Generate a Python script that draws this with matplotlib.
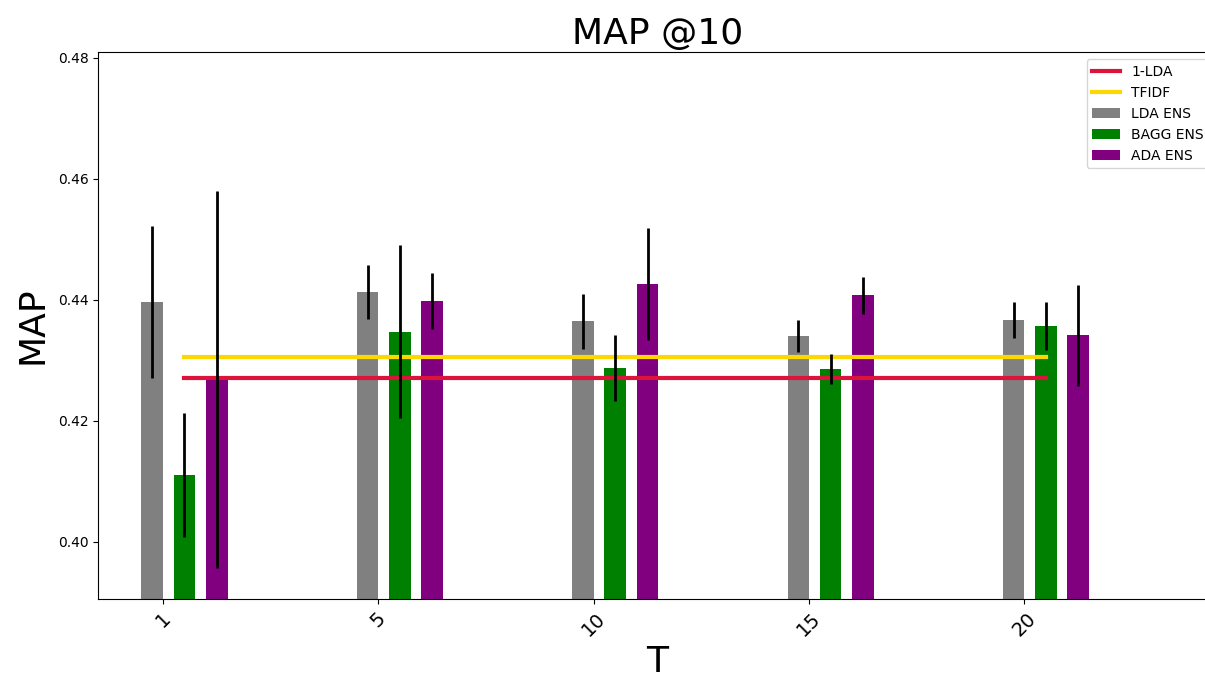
import numpy as np
import matplotlib
matplotlib.use('Agg')
import matplotlib.pyplot as plt


# valores de MAP@10 por numero de topicos T
T = [1, 5, 10, 15, 20]

lda_ens = [0.4396, 0.4413, 0.4364, 0.4340, 0.4366]
lda_ens_err = [0.0125, 0.0045, 0.0046, 0.0026, 0.0030]

bagg_ens = [0.4110, 0.4347, 0.4287, 0.4285, 0.4356]
bagg_ens_err = [0.0103, 0.0143, 0.0055, 0.0025, 0.0040]

ada_ens = [0.4268, 0.4398, 0.4426, 0.4407, 0.4341]
ada_ens_err = [0.0311, 0.0046, 0.0092, 0.0030, 0.0084]

lda_1 = 0.4270
tfidf = 0.4305


################################################################################

x = np.arange(len(T))
largura = 0.1

fig = plt.figure(figsize=(12.05, 6.81), dpi=100)
ax = fig.add_axes([0.0816, 0.1204, 0.9276, 0.8028])

# baselines, de um grupo ao outro na posicao das barras do BAGG
ax.plot([x[0] + 0.1, x[-1] + 0.1], [lda_1, lda_1], color='crimson', linewidth=3, label='1-LDA')
ax.plot([x[0] + 0.1, x[-1] + 0.1], [tfidf, tfidf], color='gold', linewidth=3, label='TFIDF')

erro = dict(ecolor='black', elinewidth=2, capsize=0)
ax.bar(x - 0.05, lda_ens, largura, yerr=lda_ens_err, color='gray', error_kw=erro, label='LDA ENS')
ax.bar(x + 0.10, bagg_ens, largura, yerr=bagg_ens_err, color='green', error_kw=erro, label='BAGG ENS')
ax.bar(x + 0.25, ada_ens, largura, yerr=ada_ens_err, color='purple', error_kw=erro, label='ADA ENS')

ax.set_xticks(x)
ax.set_xticklabels([str(t) for t in T], rotation=45, fontsize=14)
ax.set_yticks([0.40, 0.42, 0.44, 0.46, 0.48])
ax.set_xlim(-0.30, 4.89)
ax.set_ylim(0.3905, 0.4809)

ax.set_title('MAP @10', fontsize=26)
ax.set_ylabel('MAP', fontsize=26, labelpad=6)
ax.set_xlabel('T', fontsize=26)
ax.legend(loc='upper right')

fig.savefig('out.png', dpi=100)
